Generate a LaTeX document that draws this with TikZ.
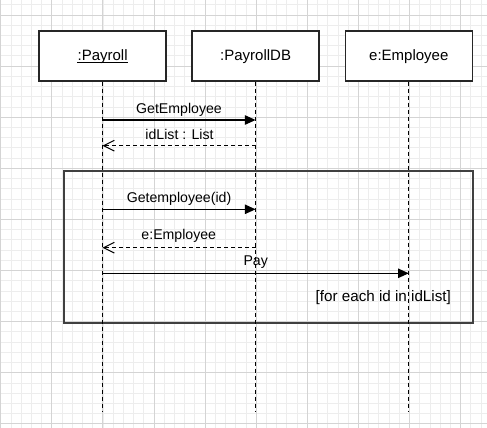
\documentclass[tikz,border=0pt]{standalone}
\usepackage{fontspec}
\setmainfont{Liberation Sans}
\usetikzlibrary{arrows.meta}
\begin{document}
\begin{tikzpicture}[x=0.75pt,y=-0.75pt,
 obj/.style={draw=black!85, line width=1pt, fill=white, minimum width=95.25pt, minimum height=37.5pt, inner sep=0pt},
 life/.style={line width=0.75pt, dash pattern=on 3pt off 2.25pt},
 msg/.style={line width=0.9pt, -{Triangle[length=8pt,width=7pt]}},
 ret/.style={line width=0.75pt, dash pattern=on 3pt off 2.25pt, -{Straight Barb[length=8pt,width=8pt,line width=0.75pt]}},
 lbl/.style={font=\fontsize{10.6pt}{12pt}\selectfont, inner sep=0pt},
 glbl/.style={font=\fontsize{11.4pt}{13pt}\selectfont, inner sep=0pt},
 olbl/.style={font=\fontsize{11.25pt}{13pt}\selectfont, inner sep=0pt, anchor=base},
 frm/.style={draw=black!75, line width=1.4pt},
 gminor/.style={black!7, line width=0.6pt},
 gmajor/.style={black!17, line width=0.7pt}]
\useasboundingbox (0,0) rectangle (487,428);
\fill[white] (0,0) rectangle (487,428);
% grid
\foreach \i in {0,...,47} { \draw[gminor] ({0.7+10.22*\i},0) -- ++(0,428); }
\foreach \j in {0,...,41} { \draw[gminor] (0,{4.8+10.22*\j}) -- ++(487,0); }
\foreach \k in {0,...,9} { \draw[gmajor] ({0.7+51.1*\k},0) -- ++(0,428); }
\foreach \k in {0,...,8} { \draw[gmajor] (0,{15+51.1*\k}) -- ++(487,0); }
% frame
\draw[frm] (64.3,171) rectangle (472.7,323.3);
% objects
\node[obj] (pr) at (102.6,56) {};
\node[obj] (db) at (255.6,56) {};
\node[obj] (em) at (408.8,56) {};
\coordinate (prend) at (102.6,412);
\coordinate (dbend) at (255.6,412);
\coordinate (emend) at (408.8,412);
\draw[life] (pr.south) -- (prend);
\draw[life] (db.south) -- (dbend);
\draw[life] (em.south) -- (emend);
\node[olbl] (prt) at (102.6,60.5) {:Payroll};
\draw[line width=0.6pt] ([yshift=-1.6pt]prt.base west) -- ([yshift=-1.6pt]prt.base east);
\node[olbl] (dbt) at (255.6,60.5) {:PayrollDB};
\node[olbl] (emt) at (408.8,60.5) {e:Employee};
% messages
\coordinate (a1) at (102.6,120);   \coordinate (b1) at (255.6,120);
\coordinate (a2) at (102.6,145.7); \coordinate (b2) at (255.6,145.7);
\coordinate (a3) at (102.6,209.3); \coordinate (b3) at (255.6,209.3);
\coordinate (a4) at (102.6,247.7); \coordinate (b4) at (255.6,247.7);
\coordinate (a5) at (102.6,273.3); \coordinate (c5) at (408.8,273.3);
\draw[msg] (a1) -- (b1);
\draw[ret] (b2) -- (a2);
\draw[msg] (a3) -- (b3);
\draw[ret] (b4) -- (a4);
\draw[msg] (a5) -- (c5);
\node[lbl] (m1) at (179,109.5) {GetEmployee};
\node[lbl] (m2) at (179.5,134) {idList : List};
\node[lbl] (m3) at (179,198.5) {Getemployee(id)};
\node[lbl] (m4) at (178.8,236) {e:Employee};
\node[lbl] (m5) at (255.7,262.3) {Pay};
\node[glbl] (g1) at (383.3,297.8) {[for each id in idList]};
\end{tikzpicture}
\end{document}
